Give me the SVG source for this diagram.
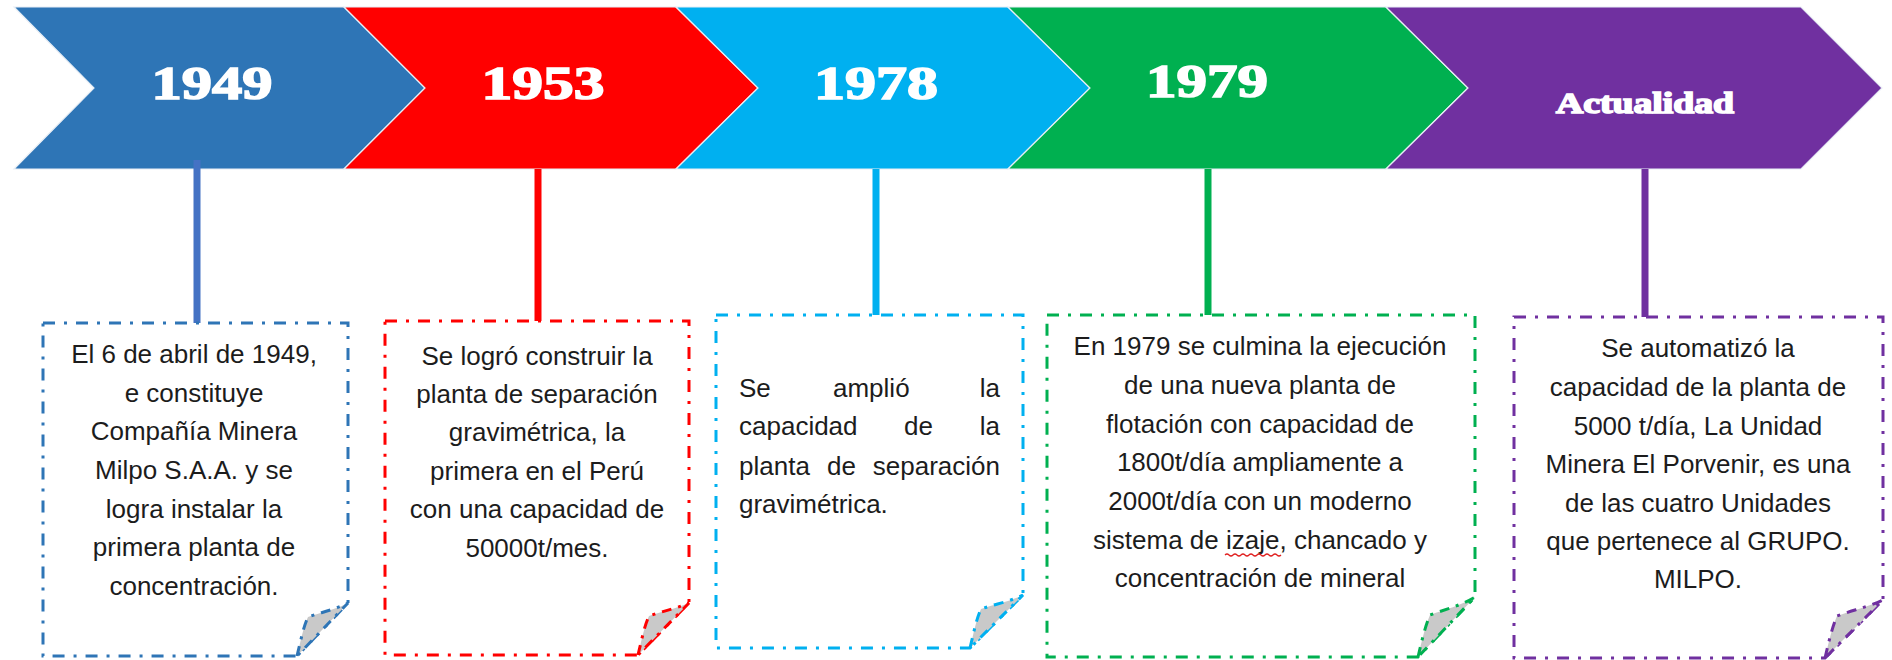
<svg xmlns="http://www.w3.org/2000/svg" width="1892" height="660" viewBox="0 0 1892 660">
<style>
.chev{stroke:#e8eef5;stroke-width:1.2}
.yr{font-family:"Liberation Serif","Times New Roman",serif;font-weight:bold;fill:#fff;stroke:#fff;stroke-width:1.6;text-anchor:middle}
.box{fill:#fff;stroke-width:3;stroke-dasharray:12 9 3 9}
.flap{fill:#c9c9c9;stroke-width:3;stroke-dasharray:10 7 3 7}
.t{font-family:"Liberation Sans",Arial,sans-serif;font-size:26px;fill:#1c1c1c;text-anchor:middle}
.tl{font-family:"Liberation Sans",Arial,sans-serif;font-size:26px;fill:#1c1c1c}
.con{stroke-width:7;fill:none}
</style>
<rect width="1892" height="660" fill="#fff"/>

<g id="chevron-1949">
<polygon class="chev" fill="#2E75B6" points="14,7 344,7 425,88 344,169 14,169 94,88"/>
<text class="yr" x="212" y="99" font-size="47" textLength="121" lengthAdjust="spacingAndGlyphs">1949</text>
</g>
<g id="chevron-1953">
<polygon class="chev" fill="#FF0000" points="344,7 676,7 758,88 676,169 344,169 425,88"/>
<text class="yr" x="543" y="99" font-size="47" textLength="123" lengthAdjust="spacingAndGlyphs">1953</text>
</g>
<g id="chevron-1978">
<polygon class="chev" fill="#00B0F0" points="676,7 1008,7 1090,88 1008,169 676,169 758,88"/>
<text class="yr" x="876" y="99" font-size="47" textLength="124" lengthAdjust="spacingAndGlyphs">1978</text>
</g>
<g id="chevron-1979">
<polygon class="chev" fill="#00B050" points="1008,7 1386,7 1468,88 1386,169 1008,169 1090,88"/>
<text class="yr" x="1207" y="97" font-size="47" textLength="122" lengthAdjust="spacingAndGlyphs">1979</text>
</g>
<g id="chevron-actualidad">
<polygon class="chev" fill="#7030A0" points="1386,7 1801,7 1882,88 1801,169 1386,169 1468,88"/>
<text class="yr" x="1645" y="113" font-size="29" stroke-width="1" textLength="178" lengthAdjust="spacingAndGlyphs">Actualidad</text>
</g>

<g id="connectors">
<line class="con" stroke="#4472C4" x1="197" y1="160" x2="197" y2="323"/>
<line class="con" stroke="#FF0000" x1="538" y1="169" x2="538" y2="321"/>
<line class="con" stroke="#00B0F0" x1="876" y1="169" x2="876" y2="315"/>
<line class="con" stroke="#00B050" x1="1208" y1="169" x2="1208" y2="315"/>
<line class="con" stroke="#7030A0" x1="1645" y1="169" x2="1645" y2="317"/>
</g>

<g id="box-1949">
<path class="box" stroke="#2E75B6" d="M43,323 H348 V603 L297,656 H43 Z"/>
<path class="flap" stroke="#2E75B6" d="M297,656 C301,640 303,628 308,617 C322,612 334,610 348,603 Z"/>
<text class="t" x="194" y="363">El 6 de abril de 1949,</text>
<text class="t" x="194" y="402">e constituye</text>
<text class="t" x="194" y="440">Compañía Minera</text>
<text class="t" x="194" y="479">Milpo S.A.A. y se</text>
<text class="t" x="194" y="518">logra instalar la</text>
<text class="t" x="194" y="556">primera planta de</text>
<text class="t" x="194" y="595">concentración.</text>
</g>

<g id="box-1953">
<path class="box" stroke="#FF0000" d="M385,321 H689 V603 L638,655 H385 Z"/>
<path class="flap" stroke="#FF0000" d="M638,655 C642,639 644,627 649,616 C663,611 675,609 689,603 Z"/>
<text class="t" x="537" y="365">Se logró construir la</text>
<text class="t" x="537" y="403">planta de separación</text>
<text class="t" x="537" y="441">gravimétrica, la</text>
<text class="t" x="537" y="480">primera en el Perú</text>
<text class="t" x="537" y="518">con una capacidad de</text>
<text class="t" x="537" y="557">50000t/mes.</text>
</g>

<g id="box-1978">
<path class="box" stroke="#00B0F0" d="M716,315 H1023 V595 L970,648 H716 Z"/>
<path class="flap" stroke="#00B0F0" d="M970,648 C974,632 976,620 981,609 C995,604 1009,602 1023,595 Z"/>
<text class="tl" x="739" y="397">Se</text>
<text class="tl" x="833" y="397">amplió</text>
<text class="tl" x="1000" y="397" text-anchor="end">la</text>
<text class="tl" x="739" y="435">capacidad</text>
<text class="tl" x="904" y="435">de</text>
<text class="tl" x="1000" y="435" text-anchor="end">la</text>
<text class="tl" x="739" y="475">planta</text>
<text class="tl" x="827" y="475">de</text>
<text class="tl" x="1000" y="475" text-anchor="end">separación</text>
<text class="tl" x="739" y="513">gravimétrica.</text>
</g>

<g id="box-1979">
<path class="box" stroke="#00B050" d="M1047,315 H1475 V597 L1418,657 H1047 Z"/>
<path class="flap" stroke="#00B050" d="M1418,657 C1422,640 1425,627 1430,615 C1446,609 1460,606 1475,597 Z"/>
<text class="t" x="1260" y="355">En 1979 se culmina la ejecución</text>
<text class="t" x="1260" y="394">de una nueva planta de</text>
<text class="t" x="1260" y="433">flotación con capacidad de</text>
<text class="t" x="1260" y="471">1800t/día ampliamente a</text>
<text class="t" x="1260" y="510">2000t/día con un moderno</text>
<text class="t" x="1260" y="549">sistema de izaje, chancado y</text>
<text class="t" x="1260" y="587">concentración de mineral</text>
<path d="M1225,555 q2,-2 4,0 t4,0 t4,0 t4,0 t4,0 t4,0 t4,0 t4,0 t4,0 t4,0 t4,0 t4,0 t4,0 t4,0" fill="none" stroke="#e02020" stroke-width="1.2"/>
</g>

<g id="box-actualidad">
<path class="box" stroke="#7030A0" d="M1514,317 H1883 V600 L1825,658 H1514 Z"/>
<path class="flap" stroke="#7030A0" d="M1825,658 C1829,641 1832,628 1837,616 C1853,610 1868,607 1883,600 Z"/>
<text class="t" x="1698" y="357">Se automatizó la</text>
<text class="t" x="1698" y="396">capacidad de la planta de</text>
<text class="t" x="1698" y="435">5000 t/día, La Unidad</text>
<text class="t" x="1698" y="473">Minera El Porvenir, es una</text>
<text class="t" x="1698" y="512">de las cuatro Unidades</text>
<text class="t" x="1698" y="550">que pertenece al GRUPO.</text>
<text class="t" x="1698" y="588">MILPO.</text>
</g>
</svg>
